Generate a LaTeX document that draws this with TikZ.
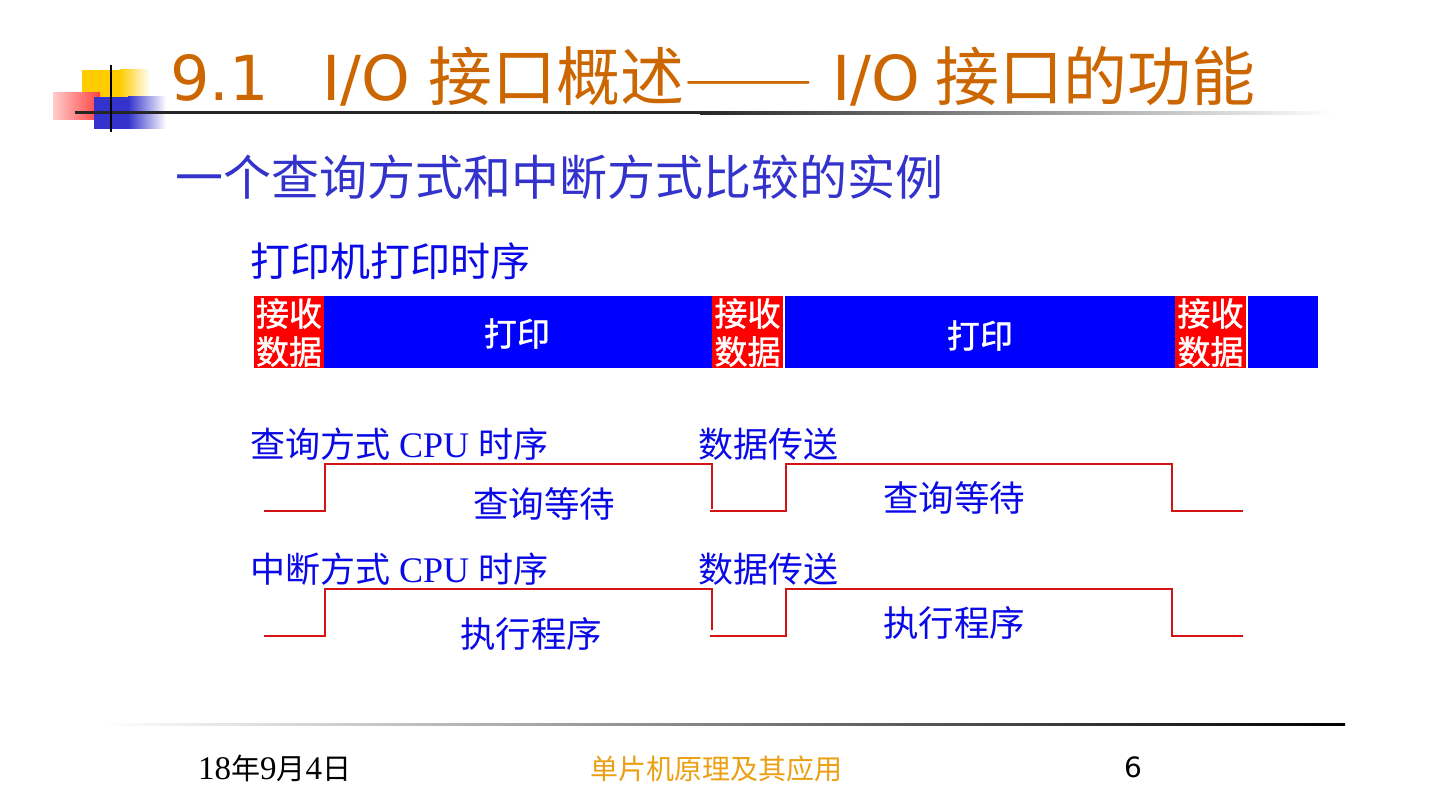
\documentclass[tikz,border=0pt]{standalone}
\usepackage{fontspec}
\setmainfont{Liberation Serif}
\newfontfamily\cjk{Noto Sans CJK SC}
\newfontfamily\cjkmed[FakeBold=1.2]{Noto Sans CJK SC}
\newfontfamily\verd{DejaVu Sans}
\definecolor{ttlorange}{RGB}{204,102,0}
\definecolor{subblue}{RGB}{51,51,204}
\definecolor{txtblue}{RGB}{10,10,230}
\definecolor{barblue}{RGB}{0,0,255}
\definecolor{barred}{RGB}{255,0,0}
\definecolor{wavered}{RGB}{210,20,20}
\definecolor{logoyellow}{RGB}{255,204,0}
\definecolor{logoblue}{RGB}{51,51,204}
\definecolor{footorange}{RGB}{235,160,20}
\tikzset{
  lbl/.style={inner sep=0pt, anchor=base west, text=txtblue},
  wave/.style={draw=wavered, line width=1.8pt},
  barblk/.style={fill=barblue, draw=none},
  redblk/.style={fill=barred, draw=none},
  boxtxt/.style={inner sep=0pt, anchor=base, text=white, font=\cjkmed\fontsize{33}{36}\selectfont}
}
\begin{document}
\begin{tikzpicture}[x=1pt,y=-1pt]
\useasboundingbox (0,0) rectangle (1440,810);
\fill[white] (0,0) rectangle (1440,810);

% logo
\fill[logoyellow] (82,70) rectangle (120,100);
\shade[left color=logoyellow, right color=white] (120,70) rectangle (150,100);
\shade[left color=red!20, right color=red!75] (53,93) rectangle (100,120);
\fill[logoblue] (94,97) rectangle (128,129);
\shade[left color=logoblue, right color=white] (128,97) rectangle (166,129);
\fill[black!85] (75,111.5) rectangle (700,114.5);
\shade[left color=black!85, right color=white] (700,111.5) rectangle (1335,114.5);
\draw[black, line width=2pt] (111,65) -- (111,132);

% title
\node[inner sep=0pt, anchor=base west, text=ttlorange, font=\verd\fontsize{62}{70}\selectfont] (t1) at (170,101) {9.1};
\node[inner sep=0pt, anchor=base west, text=ttlorange, font=\verd\fontsize{62}{70}\selectfont] (t2) at (322,101) {I/O};
\node[inner sep=0pt, anchor=base west, text=ttlorange, font=\cjk\fontsize{64}{70}\selectfont] (t3) at (428,101) {接口概述};
\node[inner sep=0pt, anchor=base west, text=ttlorange, font=\cjk\fontsize{64}{70}\selectfont, xscale=1.2, yscale=0.7, transform shape] (t4) at (684,96) {——};
\node[inner sep=0pt, anchor=base west, text=ttlorange, font=\verd\fontsize{62}{70}\selectfont] (t5) at (832,101) {I/O};
\node[inner sep=0pt, anchor=base west, text=ttlorange, font=\cjk\fontsize{64}{70}\selectfont] (t6) at (935,101) {接口的功能};

% subtitle
\node[inner sep=0pt, anchor=base west, text=subblue, font=\cjk\fontsize{48}{54}\selectfont] (sub) at (175,196) {一个查询方式和中断方式比较的实例};

% printer timing
\node[lbl, font=\cjk\fontsize{40}{44}\selectfont] (ptitle) at (250,277) {打印机打印时序};

\fill[barblk] (324,296) rectangle (712,368);
\fill[barblk] (785,296) rectangle (1175,368);
\fill[barblk] (1248,296) rectangle (1318,368);
\fill[redblk] (254,296) rectangle (324,368);
\fill[redblk] (712,296) rectangle (783,368);
\fill[redblk] (1175,296) rectangle (1246,368);

\begin{scope}
\clip (254,296) rectangle (324,368);
\node[boxtxt] (r1a) at (289,326) {接收};
\node[boxtxt] (r1b) at (289,364) {数据};
\end{scope}
\begin{scope}
\clip (712,296) rectangle (783,368);
\node[boxtxt] (r2a) at (747.5,326) {接收};
\node[boxtxt] (r2b) at (747.5,364) {数据};
\end{scope}
\begin{scope}
\clip (1175,296) rectangle (1246,368);
\node[boxtxt] (r3a) at (1210.5,326) {接收};
\node[boxtxt] (r3b) at (1210.5,364) {数据};
\end{scope}
\node[boxtxt] (p1) at (517,346) {打印};
\node[boxtxt] (p2) at (980,348) {打印};

% polling CPU timing
\node[lbl, font=\fontsize{36}{40}\selectfont] (q1) at (250,457) {{\cjk\fontsize{35}{40}\selectfont 查询方式} CPU {\cjk\fontsize{35}{40}\selectfont 时序}};
\node[lbl, font=\cjk\fontsize{35}{40}\selectfont] (q2) at (698,457) {数据传送};
\draw[wave] (264,511) -- (325,511) -- (325,464) -- (712,464) -- (712,509);
\draw[wave] (710,511) -- (786,511) -- (786,464) -- (1172,464) -- (1172,511) -- (1243,511);
\node[lbl, font=\cjk\fontsize{35.5}{40}\selectfont] (q3) at (473,517) {查询等待};
\node[lbl, font=\cjk\fontsize{35.5}{40}\selectfont] (q4) at (883,511) {查询等待};

% interrupt CPU timing
\node[lbl, font=\fontsize{36}{40}\selectfont] (i1) at (250,582) {{\cjk\fontsize{35}{40}\selectfont 中断方式} CPU {\cjk\fontsize{35}{40}\selectfont 时序}};
\node[lbl, font=\cjk\fontsize{35}{40}\selectfont] (i2) at (698,582) {数据传送};
\draw[wave] (264,636) -- (325,636) -- (325,589) -- (712,589) -- (712,630);
\draw[wave] (710,636) -- (786,636) -- (786,589) -- (1172,589) -- (1172,636) -- (1243,636);
\node[lbl, font=\cjk\fontsize{35.5}{40}\selectfont] (i3) at (460,647) {执行程序};
\node[lbl, font=\cjk\fontsize{35.5}{40}\selectfont] (i4) at (883,636) {执行程序};

% footer
\shade[left color=white, right color=black] (100,723) rectangle (1345,725.5);
\node[inner sep=0pt, anchor=base west, text=black, font=\fontsize{33}{36}\selectfont] (f1) at (198,779) {18{\cjk\fontsize{29}{36}\selectfont 年}9{\cjk\fontsize{29}{36}\selectfont 月}4{\cjk\fontsize{29}{36}\selectfont 日}};
\node[inner sep=0pt, anchor=base west, text=footorange, font=\cjk\fontsize{28}{32}\selectfont] (f2) at (590,779) {单片机原理及其应用};
\node[inner sep=0pt, anchor=base west, text=black, font=\verd\fontsize{28}{32}\selectfont] (f3) at (1124,777) {6};
\end{tikzpicture}
\end{document}
